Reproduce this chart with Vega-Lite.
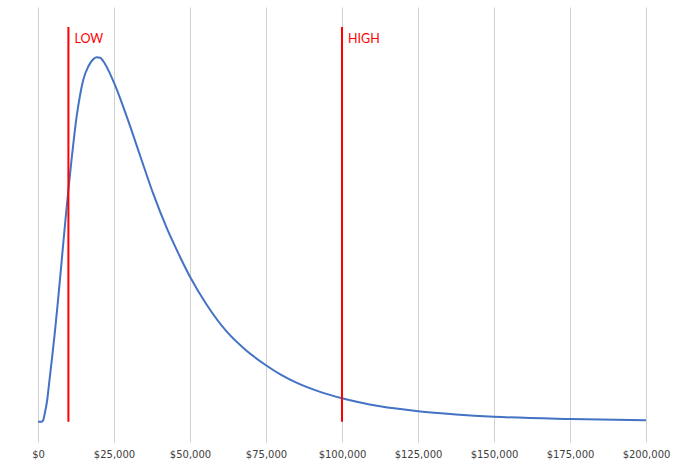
{
  "$schema": "https://vega.github.io/schema/vega-lite/v6.json",
  "autosize": "none",
  "width": 608,
  "height": 435,
  "padding": {"left": 38, "top": 7, "right": 37, "bottom": 24},
  "background": "white",
  "datasets": {
    "curve": [
      {"income": 0, "density": 0},
      {"income": 1200, "density": 0},
      {"income": 1700, "density": 1.5},
      {"income": 2240, "density": 8.4},
      {"income": 3030, "density": 21.7},
      {"income": 3780, "density": 41.7},
      {"income": 4670, "density": 65},
      {"income": 5530, "density": 89},
      {"income": 6320, "density": 113},
      {"income": 7100, "density": 138},
      {"income": 8000, "density": 168},
      {"income": 9100, "density": 204},
      {"income": 10000, "density": 232},
      {"income": 11000, "density": 261},
      {"income": 12000, "density": 288},
      {"income": 12700, "density": 305},
      {"income": 13800, "density": 326},
      {"income": 14900, "density": 342},
      {"income": 16500, "density": 355},
      {"income": 18000, "density": 362},
      {"income": 19300, "density": 364.5},
      {"income": 20400, "density": 364},
      {"income": 22000, "density": 358},
      {"income": 25000, "density": 339},
      {"income": 29200, "density": 305},
      {"income": 33600, "density": 266},
      {"income": 37900, "density": 228},
      {"income": 42300, "density": 194},
      {"income": 46700, "density": 165},
      {"income": 50000, "density": 145},
      {"income": 55500, "density": 117},
      {"income": 62100, "density": 90},
      {"income": 68600, "density": 71},
      {"income": 75000, "density": 56.5},
      {"income": 80000, "density": 46.8},
      {"income": 85000, "density": 39},
      {"income": 92800, "density": 29.8},
      {"income": 100000, "density": 23.4},
      {"income": 112500, "density": 15.4},
      {"income": 125000, "density": 10.5},
      {"income": 137500, "density": 7.3},
      {"income": 150000, "density": 5},
      {"income": 175000, "density": 2.7},
      {"income": 200000, "density": 1.4}
    ],
    "markers": [
      {"income": 10000, "label": "LOW"},
      {"income": 100000, "label": "HIGH"}
    ]
  },
  "layer": [
    {
      "data": {"name": "curve"},
      "mark": {"type": "line", "color": "#4472c4", "strokeWidth": 2, "interpolate": "monotone"},
      "encoding": {
        "x": {
          "field": "income",
          "type": "quantitative",
          "scale": {"domain": [0, 200000], "nice": false},
          "axis": {
            "values": [0, 25000, 50000, 75000, 100000, 125000, 150000, 175000, 200000],
            "format": "$,.0f",
            "title": null,
            "grid": true,
            "gridColor": "#d0d0d0",
            "gridWidth": 1,
            "domain": false,
            "ticks": false,
            "labelPadding": 7,
            "labelFont": "DejaVu Sans",
            "labelFontSize": 10,
            "labelColor": "#404040",
            "labelFlush": false
          }
        },
        "y": {
          "field": "density",
          "type": "quantitative",
          "scale": {"domain": [-20.3, 414.7], "nice": false, "zero": false},
          "axis": null
        }
      }
    },
    {
      "data": {"name": "markers"},
      "mark": {"type": "rule", "color": "#ff0000", "strokeWidth": 2},
      "encoding": {
        "x": {"field": "income", "type": "quantitative"},
        "y": {"datum": 0},
        "y2": {"datum": 394.7}
      }
    },
    {
      "data": {"name": "markers"},
      "mark": {"type": "text", "color": "#ff0000", "font": "Lato", "fontSize": 12.5, "align": "left", "baseline": "top", "dx": 6, "dy": 6},
      "encoding": {
        "x": {"field": "income", "type": "quantitative"},
        "y": {"datum": 394.7},
        "text": {"field": "label"}
      }
    }
  ],
  "config": {"view": {"stroke": null}}
}
